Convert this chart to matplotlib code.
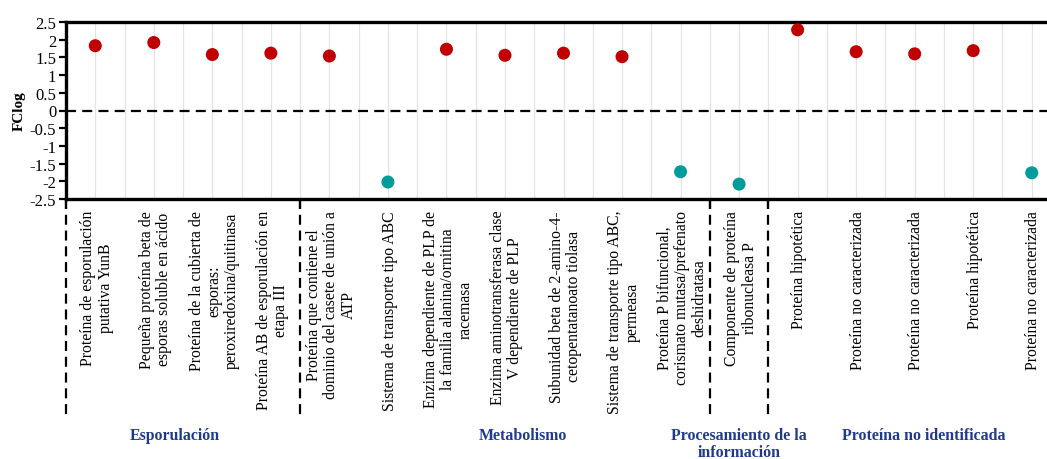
"""Dot plot of log fold-change per protein, grouped by functional category."""

import matplotlib.pyplot as plt
import matplotlib.transforms as mtransforms
from matplotlib.lines import Line2D

plt.rcParams["font.family"] = ["Liberation Serif", "DejaVu Serif"]

proteins = [
    "Proteína de esporulación\nputativa YunB",
    "Pequeña proteína beta de\nesporas soluble en ácido",
    "Proteína de la cubierta de\nesporas:\nperoxiredoxina/quitinasa",
    "Proteína AB de esporulación en\netapa III",
    "Proteína que contiene el\ndominio del casete de unión a\nATP",
    "Sistema de transporte tipo ABC",
    "Enzima dependiente de PLP de\nla familia alanina/ornitina\nracemasa",
    "Enzima aminotransferasa clase\nV dependiente de PLP",
    "Subunidad beta de 2-amino-4-\ncetopentatanoato tiolasa",
    "Sistema de transporte tipo ABC,\npermeasa",
    "Proteína P bifuncional,\ncorismato mutasa/prefenato\ndeshidratasa",
    "Componente de proteína\nribonucleasa P",
    "Proteína hipotética",
    "Proteína no caracterizada",
    "Proteína no caracterizada",
    "Proteína hipotética",
    "Proteína no caracterizada",
]
fclog = [1.83, 1.92, 1.58, 1.62, 1.54, -2.02, 1.73, 1.56, 1.62, 1.52,
         -1.73, -2.08, 2.28, 1.66, 1.60, 1.69, -1.76]

groups = ["Esporulación", "Metabolismo", "Procesamiento de la\ninformación",
          "Proteína no identificada"]
group_sizes = [4, 7, 1, 5]

y_ticks = [2.5, 2, 1.5, 1, 0.5, 0, -0.5, -1, -1.5, -2, -2.5]

UP_COLOR = "#c00000"
DOWN_COLOR = "#009c9c"
GROUP_COLOR = "#1f3a8c"

fig = plt.figure(figsize=(10.47, 4.60), dpi=100)
ax = fig.add_axes([66 / 1047, 1 - 200 / 460, 995 / 1047, 177 / 460])

n = len(fclog)
xs = list(range(n))
colors = [UP_COLOR if v > 0 else DOWN_COLOR for v in fclog]
ax.scatter(xs, fclog, s=88, c=colors, zorder=3, linewidths=0)

ax.set_xlim(-0.5, n - 0.5)
ax.set_ylim(-2.5, 2.5)

# light vertical grid on every half category
for k in range(2 * n + 1):
    ax.axvline(-0.5 + k * 0.5, color="#e3e3e3", lw=0.9, zorder=0)

ax.axhline(0, color="black", lw=1.6, ls=(0, (4.5, 2.8)), zorder=2)

ax.set_yticks(y_ticks)
ax.set_yticklabels([f"{t:g}" for t in y_ticks], fontsize=12)
ax.tick_params(axis="y", direction="out", length=5, width=1.6, pad=2)

for side in ("left", "top", "bottom"):
    ax.spines[side].set_linewidth(2.4)
ax.spines["right"].set_visible(False)

ax.set_ylabel("FClog", fontsize=11, fontweight="bold", labelpad=3)

# group boundaries: ticks on the axis plus dashed separators below it
bounds = [-0.5]
for size in group_sizes:
    bounds.append(bounds[-1] + size)
ax.set_xticks(bounds[:-1])
ax.set_xticklabels([])
ax.tick_params(axis="x", direction="out", length=7, width=1.6)

trans = mtransforms.blended_transform_factory(ax.transData, ax.transAxes)
for b in bounds[:-1]:
    ax.add_line(Line2D([b, b], [0, -218 / 177], transform=trans, color="black",
                       lw=1.6, ls=(0, (4.5, 2.6)), clip_on=False))

for x, name in zip(xs, proteins):
    ax.text(x + 0.03, -11 / 177, name, transform=trans, rotation=90,
            ha="center", va="top", multialignment="center", fontsize=11.3,
            linespacing=1.12)

group_label_x = [1.35, 7.3, 11.0, 14.15]
for gx, name in zip(group_label_x, groups):
    ax.text(gx, -228 / 177, name, transform=trans, ha="center", va="top",
            fontsize=11.4, fontweight="bold", color=GROUP_COLOR,
            linespacing=1.1)

fig.savefig("out.png", dpi=100)
